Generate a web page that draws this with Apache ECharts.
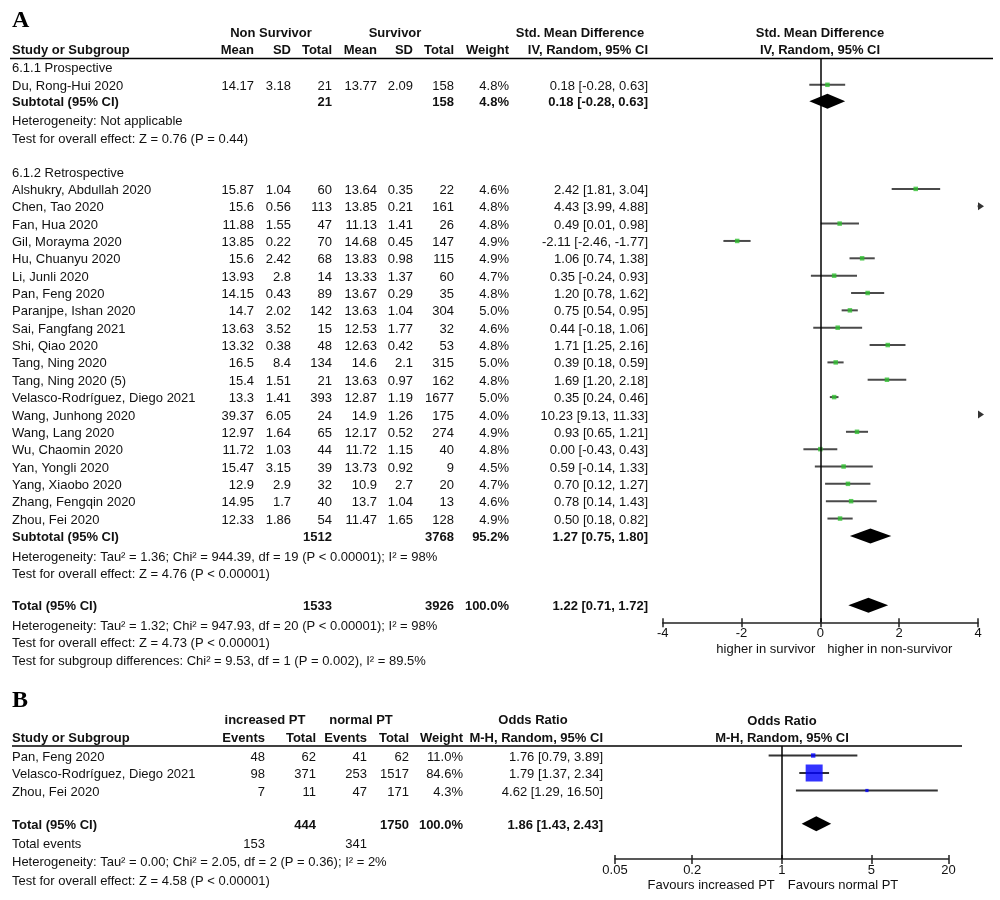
<!DOCTYPE html>
<html><head><meta charset="utf-8">
<script src="https://cdn.jsdelivr.net/npm/echarts@6/dist/echarts.min.js"></script>
<style>html,body{margin:0;padding:0;background:#fff}#c{width:1000px;height:900px}</style>
</head><body><div id="c"></div>
<script>
// ---------------- Panel A data ----------------
const studiesA = ['Du, Rong-Hui 2020','Alshukry, Abdullah 2020','Chen, Tao 2020','Fan, Hua 2020','Gil, Morayma 2020','Hu, Chuanyu 2020','Li, Junli 2020','Pan, Feng 2020','Paranjpe, Ishan 2020','Sai, Fangfang 2021','Shi, Qiao 2020','Tang, Ning 2020','Tang, Ning 2020 (5)','Velasco-Rodríguez, Diego 2021','Wang, Junhong 2020','Wang, Lang 2020','Wu, Chaomin 2020','Yan, Yongli 2020','Yang, Xiaobo 2020','Zhang, Fengqin 2020','Zhou, Fei 2020'];
const rowsA    = [0,6,7,8,9,10,11,12,13,14,15,16,17,18,19,20,21,22,23,24,25];
const meanNS   = [14.17,15.87,15.6,11.88,13.85,15.6,13.93,14.15,14.7,13.63,13.32,16.5,15.4,13.3,39.37,12.97,11.72,15.47,12.9,14.95,12.33];
const sdNS     = [3.18,1.04,0.56,1.55,0.22,2.42,2.8,0.43,2.02,3.52,0.38,8.4,1.51,1.41,6.05,1.64,1.03,3.15,2.9,1.7,1.86];
const totalNS  = [21,60,113,47,70,68,14,89,142,15,48,134,21,393,24,65,44,39,32,40,54];
const meanS    = [13.77,13.64,13.85,11.13,14.68,13.83,13.33,13.67,13.63,12.53,12.63,14.6,13.63,12.87,14.9,12.17,11.72,13.73,10.9,13.7,11.47];
const sdS      = [2.09,0.35,0.21,1.41,0.45,0.98,1.37,0.29,1.04,1.77,0.42,2.1,0.97,1.19,1.26,0.52,1.15,0.92,2.7,1.04,1.65];
const totalS   = [158,22,161,26,147,115,60,35,304,32,53,315,162,1677,175,274,40,9,20,13,128];
const weightA  = [4.8,4.6,4.8,4.8,4.9,4.9,4.7,4.8,5.0,4.6,4.8,5.0,4.8,5.0,4.0,4.9,4.8,4.5,4.7,4.6,4.9];
const smdA     = [0.18,2.42,4.43,0.49,-2.11,1.06,0.35,1.20,0.75,0.44,1.71,0.39,1.69,0.35,10.23,0.93,0.00,0.59,0.70,0.78,0.50];
const loA      = [-0.28,1.81,3.99,0.01,-2.46,0.74,-0.24,0.78,0.54,-0.18,1.25,0.18,1.20,0.24,9.13,0.65,-0.43,-0.14,0.12,0.14,0.18];
const hiA      = [0.63,3.04,4.88,0.98,-1.77,1.38,0.93,1.62,0.95,1.06,2.16,0.59,2.18,0.46,11.33,1.21,0.43,1.33,1.27,1.43,0.82];
// pooled (subtotals / total)
const poolLabelA = ['Subtotal (95% CI)','Subtotal (95% CI)','Total (95% CI)'];
const poolRowA   = [0.95,26,30];
const poolNS     = [21,1512,1533];
const poolS      = [158,3768,3926];
const poolW      = [4.8,95.2,100.0];
const poolEst    = [0.18,1.27,1.22];
const poolLo     = [-0.28,0.75,0.71];
const poolHi     = [0.63,1.80,1.72];
const notesA = [
  [-1.02,'6.1.1 Prospective'],
  [2.03,'Heterogeneity: Not applicable'],
  [3.06,'Test for overall effect: Z = 0.76 (P = 0.44)'],
  [5.0,'6.1.2 Retrospective'],
  [27.17,'Heterogeneity: Tau² = 1.36; Chi² = 944.39, df = 19 (P < 0.00001); I² = 98%'],
  [28.16,'Test for overall effect: Z = 4.76 (P < 0.00001)'],
  [31.15,'Heterogeneity: Tau² = 1.32; Chi² = 947.93, df = 20 (P < 0.00001); I² = 98%'],
  [32.13,'Test for overall effect: Z = 4.73 (P < 0.00001)'],
  [33.17,'Test for subgroup differences: Chi² = 9.53, df = 1 (P = 0.002), I² = 89.5%']
];
const xTicksA = [-4,-2,0,2,4];

// ---------------- Panel B data ----------------
const studiesB = ['Pan, Feng 2020','Velasco-Rodríguez, Diego 2021','Zhou, Fei 2020'];
const rowsB    = [0,1,2];
const eventsInc= [48,98,7];
const totalInc = [62,371,11];
const eventsNor= [41,253,47];
const totalNor = [62,1517,171];
const weightB  = [11.0,84.6,4.3];
const orB      = [1.76,1.79,4.62];
const loB      = [0.79,1.37,1.29];
const hiB      = [3.89,2.34,16.50];
const totB     = {row:3.9, inc:444, nor:1750, w:100.0, est:1.86, lo:1.43, hi:2.43, evInc:153, evNor:341};
const notesB = [
  [6.05,'Heterogeneity: Tau² = 0.00; Chi² = 2.05, df = 2 (P = 0.36); I² = 2%'],
  [7.1,'Test for overall effect: Z = 4.58 (P < 0.00001)']
];
const xTicksB = [0.05,0.2,1,5,20];

// ---------------- layout ----------------
const FONT = '"Liberation Sans", Arial, sans-serif';
const FS = 13;
const TXT = '#111';
const A = {xMin:-4, xMax:4, yMin:-1.516, yMax:30.98, left:662.7, width:315.3, top:58.5, height:563.8};
const B = {xMin:0.05, xMax:20, yMin:-0.543, yMax:5.914, left:615, width:333.5, top:746, height:113};
const colA = {name:12, m1:254, sd1:291, t1:332, m2:377, sd2:413, t2:454, w:509, ci:648};
const colB = {name:12, e1:265, t1:316, e2:367, t2:409, w:463, ci:603};

const chart = echarts.init(document.getElementById('c'));

function ciRender(xmin, xmax, color) {
  return function (params, api) {
    let lo = Math.max(api.value(0), xmin), hi = Math.min(api.value(1), xmax);
    if (!(hi > lo)) return null;
    const r = api.value(2);
    const p1 = api.coord([lo, r]), p2 = api.coord([hi, r]);
    return {type:'line', shape:{x1:p1[0], y1:p1[1], x2:p2[0], y2:p2[1]}, style:{stroke:color, lineWidth:2}};
  };
}
function diamondRender(params, api) {
  const lo = api.value(0), est = api.value(1), hi = api.value(2), r = api.value(3);
  const a = api.coord([lo, r]), c = api.coord([est, r]), b = api.coord([hi, r]);
  return {type:'polygon', shape:{points:[[a[0],a[1]],[c[0],c[1]-7.5],[b[0],b[1]],[c[0],c[1]+7.5]]}, style:{fill:'#000'}};
}

const ciDataA = studiesA.map((s,i)=>[loA[i], hiA[i], rowsA[i]]);
const ptDataA = studiesA.map((s,i)=>[smdA[i], rowsA[i]]).filter(d=>d[0]>=A.xMin && d[0]<=A.xMax);
const arrowA  = studiesA.map((s,i)=>[hiA[i], rowsA[i]]).filter(d=>d[0]>A.xMax).map(d=>[A.xMax, d[1]]);
const diaA    = poolEst.map((e,i)=>[poolLo[i], e, poolHi[i], poolRowA[i]]);
const ciDataB = studiesB.map((s,i)=>[loB[i], hiB[i], rowsB[i]]);
const ptDataB = studiesB.map((s,i)=>[orB[i], rowsB[i], weightB[i]]);
const diaB    = [[totB.lo, totB.est, totB.hi, totB.row]];

const axisLbl = {color:TXT, fontSize:FS, fontFamily:FONT, margin:5};
chart.setOption({
  animation:false,
  grid:[
    {left:A.left, top:A.top, width:A.width, height:A.height, containLabel:false},
    {left:B.left, top:B.top, width:B.width, height:B.height, containLabel:false}
  ],
  xAxis:[
    {gridIndex:0, type:'value', min:A.xMin, max:A.xMax, interval:2, position:'bottom',
     axisLine:{onZero:false, lineStyle:{color:'#222', width:1.5}}, axisTick:{show:true, inside:true, length:4, lineStyle:{color:'#222', width:1.5}},
     axisLabel:{show:false}, splitLine:{show:false}},
    {gridIndex:0, type:'value', min:A.xMin, max:A.xMax, interval:2, position:'bottom',
     axisLine:{show:false, onZero:false}, axisTick:{show:true, length:5, lineStyle:{color:'#222', width:1.5}},
     axisLabel:Object.assign({formatter:v=>String(v)}, axisLbl), splitLine:{show:false}},
    {gridIndex:1, type:'log', logBase:10, min:B.xMin, max:B.xMax, position:'bottom',
     axisLine:{onZero:false, lineStyle:{color:'#222', width:1.5}}, axisTick:{show:true, inside:true, length:4, customValues:xTicksB, lineStyle:{color:'#222', width:1.5}},
     axisLabel:{show:false, customValues:xTicksB}, splitLine:{show:false}, minorTick:{show:false}},
    {gridIndex:1, type:'log', logBase:10, min:B.xMin, max:B.xMax, position:'bottom',
     axisLine:{show:false, onZero:false}, axisTick:{show:true, length:5, customValues:xTicksB, lineStyle:{color:'#222', width:1.5}},
     axisLabel:Object.assign({customValues:xTicksB, formatter:v=>String(+v.toPrecision(3))}, axisLbl), splitLine:{show:false}}
  ],
  yAxis:[
    {gridIndex:0, type:'value', inverse:true, min:A.yMin, max:A.yMax, show:false},
    {gridIndex:1, type:'value', inverse:true, min:B.yMin, max:B.yMax, show:false}
  ],
  series:[
    {type:'custom', xAxisIndex:0, yAxisIndex:0, renderItem:ciRender(A.xMin, A.xMax, '#4a4a4a'), encode:{x:[0,1], y:2}, data:ciDataA, z:2,
     markLine:{silent:true, symbol:'none', label:{show:false}, lineStyle:{color:'#000', width:1.5, type:'solid'}, data:[{xAxis:0}]}},
    {type:'scatter', xAxisIndex:0, yAxisIndex:0, symbol:'rect', symbolSize:4.5, itemStyle:{color:'#2fbf2f'}, data:ptDataA, z:3},
    {type:'scatter', xAxisIndex:0, yAxisIndex:0, symbol:'path://M0,0L10,6L0,12Z', symbolSize:[6,8], symbolOffset:[3,0], itemStyle:{color:'#000'}, data:arrowA, z:3},
    {type:'custom', xAxisIndex:0, yAxisIndex:0, renderItem:diamondRender, encode:{x:[0,1,2], y:3}, data:diaA, z:3},
    {type:'custom', xAxisIndex:2, yAxisIndex:1, renderItem:ciRender(B.xMin, B.xMax, '#333'), encode:{x:[0,1], y:2}, data:ciDataB, z:2,
     markLine:{silent:true, symbol:'none', label:{show:false}, lineStyle:{color:'#000', width:1.5, type:'solid'}, data:[{xAxis:1}]}},
    {type:'scatter', xAxisIndex:2, yAxisIndex:1, symbol:'rect', symbolSize:d=>2.5 + 14.5 * d[2] / 84.6, itemStyle:{color:'#0000ff'}, data:ptDataB, z:3},
    {type:'custom', xAxisIndex:2, yAxisIndex:1, renderItem:diamondRender, encode:{x:[0,1,2], y:3}, data:diaB, z:3}
  ]
});

// ---------------- table text ----------------
const els = [];
function T(x, y, s, o) {
  o = o || {};
  els.push({type:'text', x:x, y:y, silent:true, style:{text:s, fill:o.fill||TXT, fontSize:o.size||FS, fontFamily:o.family||FONT,
    fontWeight:o.bold?'bold':'normal', align:o.align||'left', textAlign:o.align||'left', verticalAlign:'middle', textVerticalAlign:'middle'}});
}
const yA = r => chart.convertToPixel({gridIndex:0}, [0, r])[1] + 1.5;
const yB = r => chart.convertToPixel({gridIndex:1}, [1, r])[1] + 1.5;
const R = {align:'right'}, RB = {align:'right', bold:true};

// Panel A header
T(12, 21, 'A', {size:24, bold:true, family:'"Liberation Serif", serif', fill:'#000'});
T(271, 33, 'Non Survivor', {bold:true, align:'center'});
T(395, 33, 'Survivor', {bold:true, align:'center'});
T(580, 33, 'Std. Mean Difference', {bold:true, align:'center'});
T(820, 33, 'Std. Mean Difference', {bold:true, align:'center'});
T(12, 50, 'Study or Subgroup', {bold:true});
[['Mean',colA.m1],['SD',colA.sd1],['Total',colA.t1],['Mean',colA.m2],['SD',colA.sd2],['Total',colA.t2],['Weight',colA.w],['IV, Random, 95% CI',colA.ci]]
  .forEach(h=>T(h[1], 50, h[0], RB));
T(820, 50, 'IV, Random, 95% CI', {bold:true, align:'center'});
els.push({type:'line', silent:true, shape:{x1:10, y1:58.5, x2:993, y2:58.5}, style:{stroke:'#000', lineWidth:1.5}});

studiesA.forEach((s,i)=>{
  const y = yA(rowsA[i]);
  T(colA.name, y, s);
  T(colA.m1, y, String(meanNS[i]), R); T(colA.sd1, y, String(sdNS[i]), R); T(colA.t1, y, String(totalNS[i]), R);
  T(colA.m2, y, String(meanS[i]), R);  T(colA.sd2, y, String(sdS[i]), R);  T(colA.t2, y, String(totalS[i]), R);
  T(colA.w, y, weightA[i].toFixed(1)+'%', R);
  T(colA.ci, y, smdA[i].toFixed(2)+' ['+loA[i].toFixed(2)+', '+hiA[i].toFixed(2)+']', R);
});
poolLabelA.forEach((s,i)=>{
  const y = yA(poolRowA[i]);
  T(colA.name, y, s, {bold:true});
  T(colA.t1, y, String(poolNS[i]), RB); T(colA.t2, y, String(poolS[i]), RB);
  T(colA.w, y, poolW[i].toFixed(1)+'%', RB);
  T(colA.ci, y, poolEst[i].toFixed(2)+' ['+poolLo[i].toFixed(2)+', '+poolHi[i].toFixed(2)+']', RB);
});
notesA.forEach(n=>T(colA.name, yA(n[0]), n[1]));
const zA = chart.convertToPixel({gridIndex:0}, [0, A.yMax]);
T(zA[0]-5, 649, 'higher in survivor', R);
T(zA[0]+7, 649, 'higher in non-survivor');

// Panel B header
T(12, 701, 'B', {size:24, bold:true, family:'"Liberation Serif", serif', fill:'#000'});
T(265, 720, 'increased PT', {bold:true, align:'center'});
T(361, 720, 'normal PT', {bold:true, align:'center'});
T(533, 720, 'Odds Ratio', {bold:true, align:'center'});
T(782, 721, 'Odds Ratio', {bold:true, align:'center'});
T(12, 738, 'Study or Subgroup', {bold:true});
[['Events',colB.e1],['Total',colB.t1],['Events',colB.e2],['Total',colB.t2],['Weight',colB.w],['M-H, Random, 95% CI',colB.ci]]
  .forEach(h=>T(h[1], 738, h[0], RB));
T(782, 738, 'M-H, Random, 95% CI', {bold:true, align:'center'});
els.push({type:'line', silent:true, shape:{x1:12, y1:746, x2:962, y2:746}, style:{stroke:'#000', lineWidth:1.5}});

studiesB.forEach((s,i)=>{
  const y = yB(rowsB[i]);
  T(colB.name, y, s);
  T(colB.e1, y, String(eventsInc[i]), R); T(colB.t1, y, String(totalInc[i]), R);
  T(colB.e2, y, String(eventsNor[i]), R); T(colB.t2, y, String(totalNor[i]), R);
  T(colB.w, y, weightB[i].toFixed(1)+'%', R);
  T(colB.ci, y, orB[i].toFixed(2)+' ['+loB[i].toFixed(2)+', '+hiB[i].toFixed(2)+']', R);
});
(function(){
  const y = yB(totB.row);
  T(colB.name, y, 'Total (95% CI)', {bold:true});
  T(colB.t1, y, String(totB.inc), RB); T(colB.t2, y, String(totB.nor), RB);
  T(colB.w, y, totB.w.toFixed(1)+'%', RB);
  T(colB.ci, y, totB.est.toFixed(2)+' ['+totB.lo.toFixed(2)+', '+totB.hi.toFixed(2)+']', RB);
  const y2 = yB(5.0);
  T(colB.name, y2, 'Total events');
  T(colB.e1, y2, String(totB.evInc), R); T(colB.e2, y2, String(totB.evNor), R);
})();
notesB.forEach(n=>T(colB.name, yB(n[0]), n[1]));
const zB = chart.convertToPixel({gridIndex:1}, [1, B.yMax]);
T(zB[0]-7, 885, 'Favours increased PT', R);
T(zB[0]+6, 885, 'Favours normal PT');

chart.setOption({graphic:{elements:els}});
</script></body></html>
